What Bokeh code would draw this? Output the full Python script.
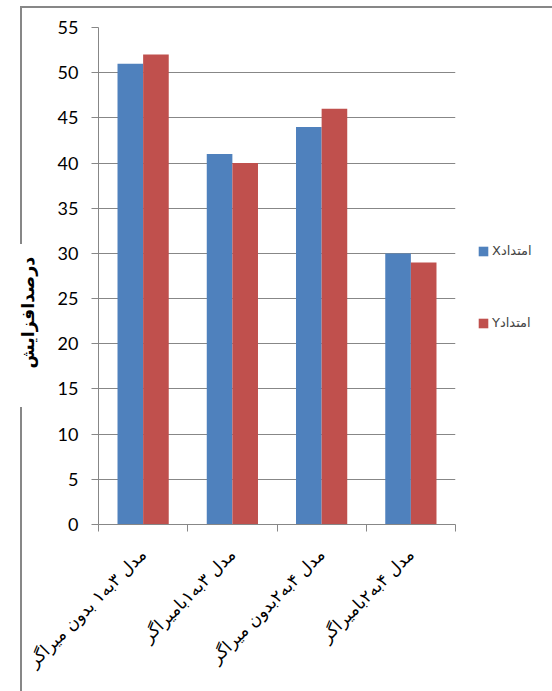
import numpy as np
from math import pi
from bokeh.plotting import figure
from bokeh.models import (ColumnDataSource, Range1d, FixedTicker, Legend,
                          LegendItem, Title, InlineStyleSheet)
from bokeh.embed import file_html
from bokeh.resources import INLINE

# Data
categories = ["مدل ۳به۱ بدون میراگر", "مدل ۳به۱بامیراگر",
              "مدل ۴به۲بدون میراگر", "مدل ۴به۲بامیراگر"]
series_names = ["Xامتداد", "Yامتداد"]
values_x = [51, 41, 44, 30]
values_y = [52, 40, 46, 29]
y_ticks = [0, 5, 10, 15, 20, 25, 30, 35, 40, 45, 50, 55]
y_axis_title = "درصدافزایش"

BLUE = "#4F81BD"
RED = "#C0504D"
GRAY = "#878787"

n = len(categories)
centers = list(np.arange(n) + 0.5)
bar_w = 0.287

src = ColumnDataSource(dict(
    xb=[c - bar_w / 2 for c in centers],
    xr=[c + bar_w / 2 for c in centers],
    vx=values_x, vy=values_y,
))

# outer chart border (top edge and left edge, broken around the axis title)
border_css = InlineStyleSheet(css="""
:host { position: relative; }
:host::before {
  content: ""; position: absolute; left: 20px; top: 6px;
  width: 600px; height: 236px; z-index: 10; pointer-events: none;
  border-top: 2px solid #878787; border-left: 2px solid #878787;
}
:host::after {
  content: ""; position: absolute; left: 20px; top: 407px;
  width: 0px; height: 300px; z-index: 10; pointer-events: none;
  border-left: 2px solid #878787;
}
""")

p = figure(frame_width=357, frame_height=497, output_backend="svg",
           toolbar_location=None,
           x_range=Range1d(0, n), y_range=Range1d(y_ticks[0], y_ticks[-1]),
           min_border_left=98, min_border_right=97, min_border_top=27,
           min_border_bottom=167, stylesheets=[border_css])
p.outline_line_color = None
p.background_fill_color = "white"
p.border_fill_color = "white"

rx = p.vbar(x="xb", top="vx", width=bar_w, bottom=0, source=src,
            fill_color=BLUE, line_color=None)
ry = p.vbar(x="xr", top="vy", width=bar_w, bottom=0, source=src,
            fill_color=RED, line_color=None)

# grid
p.xgrid.grid_line_color = None
p.ygrid.grid_line_color = GRAY
p.ygrid.grid_line_width = 1

# y axis
p.yaxis.ticker = FixedTicker(ticks=y_ticks)
p.yaxis.axis_line_color = GRAY
p.yaxis.major_tick_line_color = GRAY
p.yaxis.major_tick_out = 7
p.yaxis.major_tick_in = 0
p.yaxis.minor_tick_line_color = None
p.yaxis.major_label_standoff = 13
p.yaxis.major_label_text_font = "Lato"
p.yaxis.major_label_text_font_size = "18px"
p.yaxis.major_label_text_color = "#000000"

# x axis: tick marks on category boundaries, labels at centres
p.xaxis.ticker = FixedTicker(ticks=centers, minor_ticks=list(range(n + 1)))
p.xaxis.major_label_overrides = {c: lab for c, lab in zip(centers, categories)}
p.xaxis.axis_line_color = GRAY
p.xaxis.major_tick_line_color = None
p.xaxis.major_tick_out = 7
p.xaxis.minor_tick_line_color = GRAY
p.xaxis.minor_tick_out = 7
p.xaxis.minor_tick_in = 0
p.xaxis.major_label_orientation = pi / 4
p.xaxis.major_label_standoff = 20
p.xaxis.major_label_text_font = "DejaVu Sans"
p.xaxis.major_label_text_font_size = "17px"
p.xaxis.major_label_text_color = "#000000"

# vertical axis title, anchored from the bottom of the plot area
p.add_layout(Title(text=y_axis_title, align="left", offset=156, standoff=32,
                   vertical_align="middle",
                   text_font="DejaVu Sans", text_font_style="bold",
                   text_font_size="17.5px", text_color="#000000"), "left")

legend = Legend(items=[LegendItem(label=series_names[0], renderers=[rx]),
                       LegendItem(label=series_names[1], renderers=[ry])],
                location=(22, 194), orientation="vertical",
                glyph_width=12, glyph_height=12, spacing=57,
                padding=0, margin=0, label_standoff=3,
                label_text_font="DejaVu Sans", label_text_font_size="13px",
                border_line_color=None, background_fill_alpha=0)
p.add_layout(legend, "right")

open("out.html", "w").write(file_html(p, INLINE))
